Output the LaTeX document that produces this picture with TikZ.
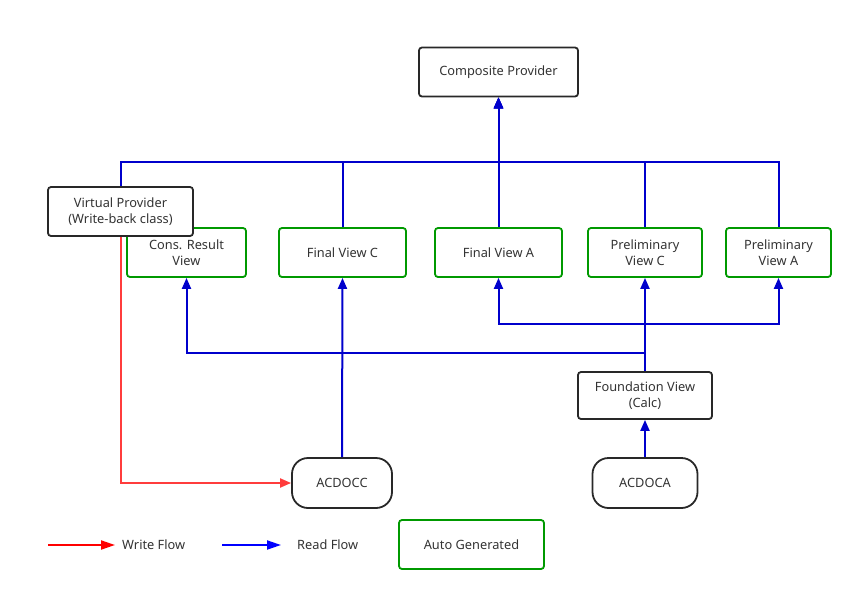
\documentclass[tikz,border=0pt]{standalone}
\usepackage{fontspec}
\setmainfont{Noto Sans}
\usetikzlibrary{arrows.meta}
\definecolor{rdblue}{RGB}{0,0,204}
\definecolor{wrred}{RGB}{255,60,60}
\definecolor{boxgreen}{RGB}{0,153,0}
\definecolor{boxdark}{RGB}{40,40,40}
\definecolor{txt}{RGB}{51,51,51}
\tikzset{
  box/.style={draw, line width=1.8pt, rounded corners=3pt, inner sep=0pt, align=center,
    text=txt, font=\fontsize{12.8}{16}\selectfont},
  blackbox/.style={box, draw=boxdark},
  greenbox/.style={box, draw=boxgreen},
  tablebox/.style={box, draw=boxdark, rounded corners=16pt},
  rd/.style={draw=rdblue, line width=2pt, -{Triangle[length=11pt,width=9pt]}},
  wr/.style={draw=wrred, line width=2pt, -{Triangle[length=11pt,width=9pt]}},
  legtext/.style={text=txt, font=\fontsize{12.8}{16}\selectfont, anchor=west, inner sep=0pt}
}
\begin{document}
\begin{tikzpicture}[x=1pt,y=-1pt]
\useasboundingbox (0,0) rectangle (863,600);
% nodes
\node[blackbox, minimum width=159pt, minimum height=49pt] (cp) at (498.5,72) {Composite Provider};
\node[greenbox, minimum width=119pt, minimum height=49pt] (crv) at (186.5,252.5) {Cons. Result\\View};
\node[greenbox, minimum width=127pt, minimum height=49pt] (fvc) at (342.5,252.5) {Final View C};
\node[greenbox, minimum width=127pt, minimum height=49pt] (fva) at (498.5,252.5) {Final View A};
\node[greenbox, minimum width=114pt, minimum height=49pt] (pvc) at (645,252.5) {Preliminary\\View C};
\node[greenbox, minimum width=105pt, minimum height=49pt] (pva) at (778.5,252.5) {Preliminary\\View A};
\node[blackbox, fill=white, minimum width=145pt, minimum height=49pt] (vp) at (120.5,211.5) {Virtual Provider\\(Write-back class)};
\node[blackbox, minimum width=134pt, minimum height=47pt] (fv) at (645,395.5) {Foundation View\\(Calc)};
\node[tablebox, minimum width=100pt, minimum height=50pt] (acdocc) at (342,483) {ACDOCC};
\node[tablebox, minimum width=105pt, minimum height=50pt] (acdoca) at (645,483) {ACDOCA};
% coordinates
\coordinate (bus) at (498.5,162);
\coordinate (lb1) at (645,352.5);
\coordinate (lb2) at (645,323.5);
% top connectors
\draw[rd] (vp.north) |- (bus) -- (cp.south);
\draw[rd] (fvc.north) |- (bus) -- (cp.south);
\draw[rd] (fva.north) -- (cp.south);
\draw[rd] (pvc.north) |- (bus) -- (cp.south);
\draw[rd] (pva.north) |- (bus) -- (cp.south);
% lower connectors
\draw[rd] (acdocc.north) -- (fvc.south);
\draw[rd] (acdoca.north) -- (fv.south);
\draw[rd] (fv.north) -- (pvc.south);
\draw[rd] (fv.north) -- (lb1) -| (crv.south);
\draw[rd] (fv.north) -- (lb2) -| (fva.south);
\draw[rd] (fv.north) -- (lb2) -| (pva.south);
\draw[wr] (vp.south) |- (acdocc.west);
% legend
\coordinate (wl1) at (48,545);
\coordinate (wl2) at (115,545);
\coordinate (rl1) at (222,545);
\coordinate (rl2) at (281,545);
\draw[line width=2pt, draw=red, -{Triangle[length=14pt,width=9pt]}, red] (wl1) -- (wl2);
\draw[line width=2pt, draw=blue, -{Triangle[length=14pt,width=9pt]}, blue] (rl1) -- (rl2);
\node[legtext] (wt) at (122,545) {Write Flow};
\node[legtext] (rt) at (297,545) {Read Flow};
\node[greenbox, minimum width=145pt, minimum height=49pt] (ag) at (471.5,544.5) {Auto Generated};
\end{tikzpicture}
\end{document}
